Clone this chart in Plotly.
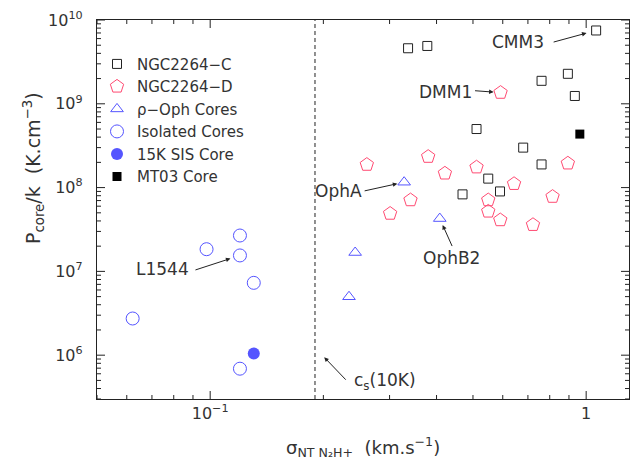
import numpy as np
import plotly.graph_objects as go

# Non-thermal velocity dispersion (km/s) and core pressure P/k (K cm^-3)
ngc_c_sigma = [0.336, 0.378, 1.063, 0.761, 0.894, 0.933, 0.511, 0.680, 0.761, 0.549, 0.590, 0.469]
ngc_c_p = [4.6e9, 4.9e9, 7.5e9, 1.88e9, 2.28e9, 1.24e9, 5.0e8, 3.0e8, 1.89e8, 1.28e8, 9.0e7, 8.3e7]

ngc_d_sigma = [0.592, 0.261, 0.380, 0.421, 0.341, 0.301, 0.511, 0.549, 0.549, 0.591, 0.643, 0.722, 0.814, 0.894]
ngc_d_p = [1.36e9, 1.88e8, 2.34e8, 1.48e8, 7.1e7, 4.9e7, 1.75e8, 7.1e7, 5.2e7, 4.1e7, 1.11e8, 3.6e7, 7.8e7, 1.95e8]

oph_sigma = [0.243, 0.234, 0.328, 0.408]
oph_p = [1.68e7, 4.98e6, 1.16e8, 4.27e7]

iso_sigma = [0.0622, 0.0978, 0.120, 0.120, 0.1306, 0.120]
iso_p = [2.74e6, 1.84e7, 2.68e7, 1.55e7, 7.3e6, 6.9e5]

sis_sigma = [0.1306]
sis_p = [1.05e6]

mt03_sigma = [0.962]
mt03_p = [4.35e8]

cs_10k = 0.19
x_range = [0.05, 1.3]
y_range = [3e5, 1e10]

x_major = [0.1, 1]
x_labels = ["10<sup>\u22121</sup>", "1"]
y_major = [1e6, 1e7, 1e8, 1e9, 1e10]
y_labels = ["10<sup>6</sup>", "10<sup>7</sup>", "10<sup>8</sup>", "10<sup>9</sup>", "10<sup>10</sup>"]

FONT = "DejaVu Sans"
INK = "#222222"
TXT = "#333333"
RED = "#ff4a72"
BLUE = "#5555ff"
PAD = "\u00a0\u00a0"
MAJOR_LEN = 8
MINOR_LEN = 4

W, H = 636, 460
M_L, M_R, M_T, M_B = 97, 7, 20, 61


def lg(v):
    return float(np.log10(v))


def log_minor(lo, hi):
    """Minor tick values 2..9 x 10^n lying inside [lo, hi]."""
    vals = []
    for e in range(int(np.floor(lg(lo))), int(np.ceil(lg(hi))) + 1):
        for m in range(2, 10):
            v = m * 10.0 ** e
            if lo <= v <= hi:
                vals.append(v)
    return vals


# pixels per decade on each axis, used to give the frame ticks a fixed pixel length
x_ppd = (W - M_L - M_R) / (lg(x_range[1]) - lg(x_range[0]))
y_ppd = (H - M_T - M_B) / (lg(y_range[1]) - lg(y_range[0]))


def frame_ticks():
    """Inward tick segments on all four sides, as one polyline broken by gaps."""
    xs, ys = [], []
    for vals, n in ((x_major, MAJOR_LEN), (log_minor(*x_range), MINOR_LEN)):
        dy = 10 ** (n / y_ppd)
        for v in vals:
            xs += [v, v, None, v, v, None]
            ys += [y_range[0], y_range[0] * dy, None, y_range[1], y_range[1] / dy, None]
    for vals, n in ((y_major, MAJOR_LEN), (log_minor(*y_range), MINOR_LEN)):
        dx = 10 ** (n / x_ppd)
        for v in vals:
            xs += [x_range[0], x_range[0] * dx, None, x_range[1], x_range[1] / dx, None]
            ys += [v, v, None, v, v, None]
    return xs, ys


fig = go.Figure()

tx, ty = frame_ticks()
fig.add_trace(go.Scatter(x=tx, y=ty, mode="lines", line=dict(color=INK, width=1),
                         showlegend=False, hoverinfo="skip", cliponaxis=False))

fig.add_trace(go.Scatter(x=[cs_10k, cs_10k], y=y_range, mode="lines",
                         line=dict(color=INK, width=1, dash="4px,3px"),
                         showlegend=False, hoverinfo="skip"))

fig.add_trace(go.Scatter(x=ngc_c_sigma, y=ngc_c_p, mode="markers", name="NGC2264\u2212C",
                         marker=dict(symbol="square-open", size=9, color=INK, line=dict(width=1))))
fig.add_trace(go.Scatter(x=ngc_d_sigma, y=ngc_d_p, mode="markers", name="NGC2264\u2212D",
                         marker=dict(symbol="pentagon-open", size=14, color=RED, line=dict(width=1))))
fig.add_trace(go.Scatter(x=oph_sigma, y=oph_p, mode="markers", name="\u03c1\u2212Oph Cores",
                         marker=dict(symbol="triangle-up-open", size=11, color=BLUE, line=dict(width=1))))
fig.add_trace(go.Scatter(x=iso_sigma, y=iso_p, mode="markers", name="Isolated Cores",
                         marker=dict(symbol="circle-open", size=13, color=BLUE, line=dict(width=1))))
fig.add_trace(go.Scatter(x=sis_sigma, y=sis_p, mode="markers", name="15K SIS Core",
                         marker=dict(symbol="circle", size=12, color=BLUE)))
fig.add_trace(go.Scatter(x=mt03_sigma, y=mt03_p, mode="markers", name="MT03 Core",
                         marker=dict(symbol="square", size=9, color="#000000")))


def arrow(x, y, ax, ay, standoff):
    fig.add_annotation(x=lg(x), y=lg(y), xref="x", yref="y", text="", showarrow=True,
                       ax=ax, ay=ay, arrowhead=2, arrowsize=0.9, arrowwidth=1,
                       arrowcolor=INK, standoff=standoff)


def label(x, y, text, dx, dy, anchor):
    fig.add_annotation(x=lg(x), y=lg(y), xref="x", yref="y", text=text, showarrow=False,
                       xanchor=anchor, yanchor="middle", xshift=dx, yshift=dy,
                       font=dict(family=FONT, size=17, color=TXT))


# CMM3
arrow(ngc_c_sigma[2], ngc_c_p[2], -44, 12, 10)
label(ngc_c_sigma[2], ngc_c_p[2], "CMM3", -50, -12, "right")
# DMM1
arrow(ngc_d_sigma[0], ngc_d_p[0], -27, -2, 7)
label(ngc_d_sigma[0], ngc_d_p[0], "DMM1", -27, 1, "right")
# OphA
arrow(oph_sigma[2], oph_p[2], -41, 9, 7)
label(oph_sigma[2], oph_p[2], "OphA", -40, -9, "right")
# OphB2
arrow(oph_sigma[3], oph_p[3], 13, 29, 7)
label(oph_sigma[3], oph_p[3], "OphB2", 12, -39, "center")
# L1544
arrow(iso_sigma[3], iso_p[3], -46, 15, 10)
label(iso_sigma[3], iso_p[3], "L1544", -49, -14, "right")
# sound speed at 10 K
cs_head_x, cs_head_y = 0.201, 9.46e5
arrow(cs_head_x, cs_head_y, 23, 24, 0)
label(cs_head_x, cs_head_y, "c<sub>s</sub>(10K)", 28, -24, "left")

axis_common = dict(
    type="log", showline=True, linecolor=INK, linewidth=1, mirror=True,
    ticks="", showgrid=False, zeroline=False,
    tickfont=dict(family=FONT, size=16, color=TXT),
)

fig.update_layout(
    xaxis=dict(range=[lg(x_range[0]), lg(x_range[1])], tickmode="array",
               tickvals=x_major, ticktext=x_labels, **axis_common),
    yaxis=dict(range=[lg(y_range[0]), lg(y_range[1])], tickmode="array",
               tickvals=y_major, ticktext=[t + PAD for t in y_labels], **axis_common),
)

fig.add_annotation(x=0.5, y=-0.127, xref="paper", yref="paper", xanchor="center", yanchor="middle",
                   text="\u03c3<sub>NT N\u2082H+</sub>  (km.s<sup>\u22121</sup>)", showarrow=False,
                   font=dict(family=FONT, size=18, color=TXT))
fig.add_annotation(x=-0.118, y=0.61, xref="paper", yref="paper", xanchor="center", yanchor="middle",
                   textangle=-90,
                   text="P<sub>core</sub>/k  (K.cm<sup>\u22123</sup>)", showarrow=False,
                   font=dict(family=FONT, size=19, color=TXT))

fig.update_layout(
    width=W, height=H,
    margin=dict(l=M_L, r=M_R, t=M_T, b=M_B),
    paper_bgcolor="white", plot_bgcolor="white",
    legend=dict(x=0.0, y=0.927, xanchor="left", yanchor="top", bgcolor="rgba(0,0,0,0)",
                font=dict(family=FONT, size=15, color=TXT), tracegroupgap=0,
                itemsizing="trace"),
)

fig.write_html("out.html")
